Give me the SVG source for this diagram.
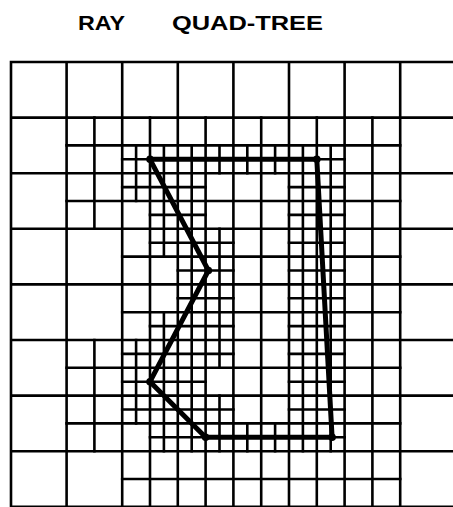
<svg xmlns="http://www.w3.org/2000/svg" width="453" height="507" viewBox="0 0 453 507">
  <style>
    .title { font-family: "Liberation Sans", Arial, sans-serif; font-weight: bold; font-size: 21px; fill: #000; }
    .grid { fill: none; stroke: #000; stroke-width: 2.6; stroke-linecap: square; }
    .poly { fill: none; stroke: #000; stroke-width: 5; stroke-linejoin: round; stroke-linecap: round; }
    .dot { fill: #000; }
  </style>
  <rect x="0" y="0" width="453" height="507" fill="#fff"/>
  <g id="title">
    <text class="title" x="78" y="30" textLength="47" lengthAdjust="spacingAndGlyphs">RAY</text>
    <text class="title" x="172" y="30" textLength="151" lengthAdjust="spacingAndGlyphs">QUAD-TREE</text>
  </g>
  <g id="quadtree" transform="translate(11,62) scale(13.9)">
    <path id="major-grid" class="grid" vector-effect="non-scaling-stroke"
      d="M0 0V32M4 0V32M8 0V32M12 0V32M16 0V32M20 0V32M24 0V32M28 0V32M32 0V32
         M0 0H32M0 4H32M0 8H32M0 12H32M0 16H32M0 20H32M0 24H32M0 28H32M0 32H32"/>
    <path id="half-grid" class="grid" vector-effect="non-scaling-stroke"
      d="M6 4V12M6 20V28M10 4V32M14 4V32M18 4V32M22 4V32M26 4V32
         M4 6H28M4 10H28M8 14H28M8 18H28M4 22H28M4 26H28M8 30H28"/>
    <path id="fine-grid" class="grid" vector-effect="non-scaling-stroke"
      d="M8 7H24M8 9H14M20 9H24M10 11H14M20 11H24M10 13H16M20 13H24
         M12 15H16M20 15H24M12 17H16M20 17H24M10 19H16M20 19H24
         M8 21H16M20 21H24M8 23H14M20 23H24M8 25H16M20 25H24M10 27H24
         M9 6V10M9 20V26M11 6V14M11 18V28M13 6V28M15 6V8M15 12V22M15 24V28
         M17 6V8M17 26V28M19 6V8M19 26V28M21 6V28M23 6V28"/>
  </g>
  <g id="polygon">
    <polygon class="poly" points="150,159.3 316.8,159.3 332.1,437.3 205.6,437.3 150,381.7 208.4,270.5"/>
    <circle class="dot" cx="150" cy="159.3" r="3.8"/>
    <circle class="dot" cx="316.8" cy="159.3" r="3.8"/>
    <circle class="dot" cx="332.1" cy="437.3" r="3.8"/>
    <circle class="dot" cx="205.6" cy="437.3" r="3.8"/>
    <circle class="dot" cx="150" cy="381.7" r="3.8"/>
    <circle class="dot" cx="208.4" cy="270.5" r="3.8"/>
  </g>
</svg>
